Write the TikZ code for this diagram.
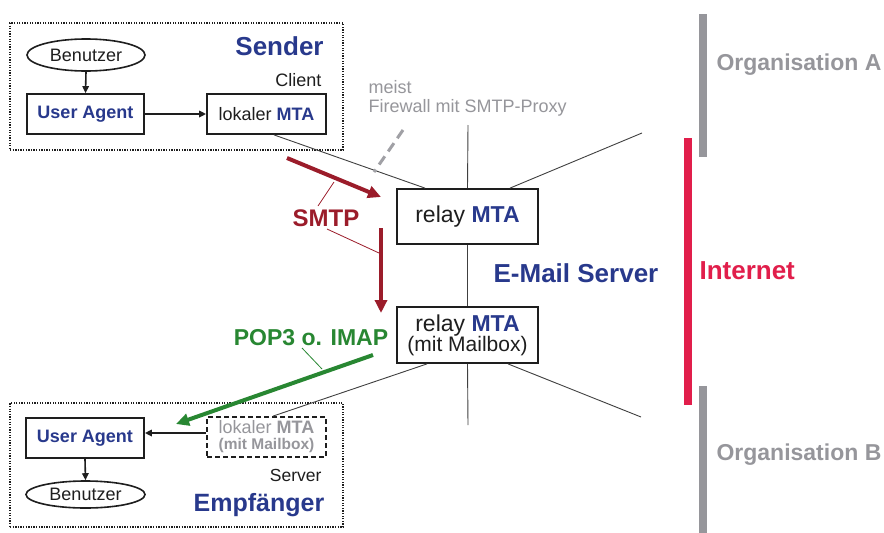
\documentclass[tikz,border=0pt]{standalone}
\usepackage{fontspec}
\setmainfont{Liberation Sans}
\usetikzlibrary{arrows.meta,shapes.geometric,calc}
\definecolor{cblue}{RGB}{40,57,140}
\definecolor{cdred}{RGB}{155,28,42}
\definecolor{cgreen}{RGB}{40,135,50}
\definecolor{cgray}{RGB}{150,150,155}
\definecolor{cred}{RGB}{225,30,75}
\definecolor{ctext}{RGB}{30,30,30}
\newcommand{\fsz}[1]{\fontsize{#1}{#1}\selectfont}
\tikzset{
  dotbox/.style={draw=ctext, line width=1.3pt, dash pattern=on 1.3pt off 1.3pt, rectangle, inner sep=0pt},
  mbox/.style={draw=ctext, line width=1.8pt, rectangle, inner sep=0pt, text=ctext, font=\fsz{18}, align=center},
  ell/.style={draw=ctext, line width=1.6pt, ellipse, inner sep=0pt, text=ctext, font=\fsz{18}},
  thinline/.style={draw=ctext!85, line width=0.9pt},
  blk/.style={draw=ctext, line width=1.6pt, -{Triangle[length=7pt,width=6.5pt]}},
  proto/.style={line width=4pt, -{Triangle[length=13pt,width=12pt]}},
  plabel/.style={font=\fsz{24}\bfseries},
}
\begin{document}
\begin{tikzpicture}[x=1pt,y=-1pt]
\useasboundingbox[fill=white] (0,0) rectangle (884,533);

% bars
\fill[cgray] (699,14) rectangle (707,157);
\fill[cgray] (699,386) rectangle (707,533);
\fill[cred] (684,138) rectangle (692,405);

% sender box
\node[dotbox, minimum width=333pt, minimum height=127pt] (sbox) at (176.5,86.5) {};
\node[ell, minimum width=118pt, minimum height=32pt] (ben1) at (86,55) {Benutzer};
\node[mbox, minimum width=117pt, minimum height=40pt] (ua1) at (85.5,114) {\textcolor{cblue}{\textbf{User Agent}}};
\node[mbox, minimum width=119pt, minimum height=40pt] (lm1) at (266.5,114) {lokaler \textcolor{cblue}{\textbf{MTA}}};
\node[font=\fsz{26}\bfseries, text=cblue] (sender) at (279.5,46) {Sender};
\node[font=\fsz{18}, text=ctext, anchor=east] (client) at (325,80) {Client};

% receiver box
\node[dotbox, minimum width=333pt, minimum height=124pt] (ebox) at (176.5,465) {};
\node[mbox, minimum width=118pt, minimum height=40pt] (ua2) at (85,438) {\textcolor{cblue}{\textbf{User Agent}}};
\node[mbox, dashed, dash pattern=on 5pt off 3pt, minimum width=119pt, minimum height=40pt, text=cgray] (lm2) at (266.5,437)
  {\fsz{18}lokaler \textbf{MTA}\\[-2pt]{\fsz{15.5}\bfseries (mit Mailbox)}};
\node[ell, minimum width=119pt, minimum height=27pt] (ben2) at (85.5,494.5) {Benutzer};
\node[font=\fsz{17.5}, text=ctext, anchor=east] (server) at (325,475) {Server};
\node[font=\fsz{25}\bfseries, text=cblue] (empf) at (259,505) {Empfänger};

% relays
\node[mbox, minimum width=141pt, minimum height=55pt, font=\fsz{23}] (relay1) at (467.5,216.5) {relay \textcolor{cblue}{\textbf{MTA}}};
\node[mbox, minimum width=141pt, minimum height=56pt] (relay2) at (467.5,335)
  {{\fsz{23}relay \textcolor{cblue}{\textbf{MTA}}}\\[-1pt]{\fsz{21}(mit Mailbox)}};

% labels
\node[font=\fsz{18}, text=cgray, anchor=west] (meist) at (365,87) {meist};
\node[font=\fsz{18}, text=cgray, anchor=west] (fw) at (365,108) {Firewall mit SMTP-Proxy};
\node[font=\fsz{26}\bfseries, text=cblue] (mserver) at (576,273) {E-Mail Server};
\node[font=\fsz{26}\bfseries, text=cred, anchor=west] (inet) at (696,271) {Internet};
\node[font=\fsz{23}\bfseries, text=cgray, anchor=west] (orga) at (713,65) {Organisation A};
\node[font=\fsz{23}\bfseries, text=cgray, anchor=west] (orgb) at (713,455) {Organisation B};
\node[plabel, text=cdred] (smtp) at (326,218) {SMTP};
\node[font=\fsz{23}\bfseries, text=cgreen] (pop) at (311,338) {POP3 o. IMAP};

% coordinates
\coordinate (t1) at (468,125);
\coordinate (t2) at (642,133);
\coordinate (b1) at (468,425);
\coordinate (b2) at (641,417);
\coordinate (fwa) at (403,130);
\coordinate (fwb) at (374,172);
\coordinate (s1a) at (287,158);
\coordinate (s1b) at (381,197);
\coordinate (s2a) at (381,228);
\coordinate (s2b) at (381,313);
\coordinate (ga) at (373,355);
\coordinate (gb) at (176,424);
\coordinate (p1a) at (318,206);
\coordinate (p1b) at (334,182);
\coordinate (p2a) at (327,229);
\coordinate (p2b) at (379,253);
\coordinate (p3a) at (302,348);
\coordinate (p3b) at (322,369);

% network lines
\draw[thinline] ([xshift=7.5pt]lm1.south) -- ([xshift=-42.5pt]relay1.north);
\draw[thinline] (t1) -- (relay1.north);
\draw[thinline] ([xshift=42.5pt]relay1.north) -- (t2);
\draw[thinline] (relay1.south) -- (relay2.north);
\draw[thinline] ([xshift=-40.5pt]relay2.south) -- ([xshift=6.5pt]lm2.north);
\draw[thinline] (relay2.south) -- (b1);
\draw[thinline] ([xshift=40.5pt]relay2.south) -- (b2);
\draw[cgray!90, line width=3pt, dash pattern=on 10pt off 6pt] (fwa) -- (fwb);

% local arrows
\draw[blk] (ben1.south) -- (ua1.north);
\draw[blk] (ua1.east) -- (lm1.west);
\draw[blk] ([yshift=4pt]lm2.west) -- ([yshift=4pt]lm2.west -| ua2.east);
\draw[blk] (ua2.south) -- (ben2.north);

% protocol arrows
\draw[proto, cdred] (s1a) -- (s1b);
\draw[proto, cdred] (s2a) -- (s2b);
\draw[proto, cgreen] (ga) -- (gb);
\draw[cdred, line width=0.8pt] (p1a) -- (p1b);
\draw[cdred, line width=0.8pt] (p2a) -- (p2b);
\draw[cgreen, line width=0.8pt] (p3a) -- (p3b);
\end{tikzpicture}
\end{document}
